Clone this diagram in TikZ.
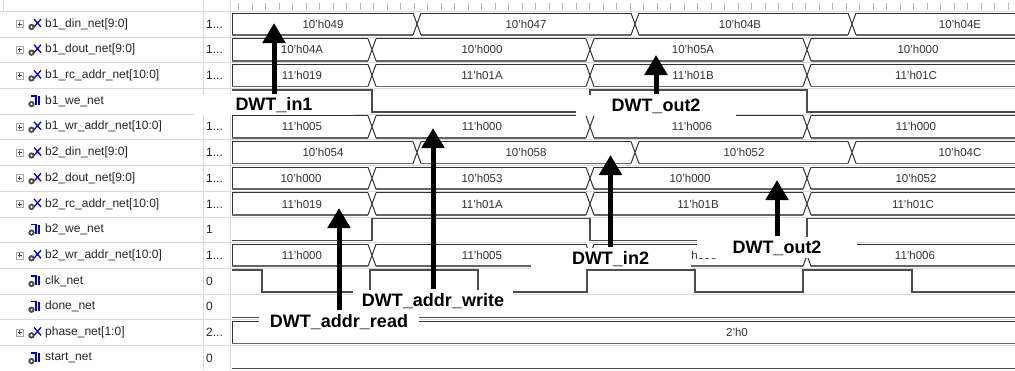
\documentclass[tikz,border=0pt]{standalone}
\usepackage{fontspec}
\setmainfont{Liberation Sans}
\usetikzlibrary{arrows.meta,positioning}

\tikzset{
  gridline/.style={gray!30, line width=0.6pt},
  tickmark/.style={gray!55, line width=0.6pt},
  bitline/.style={black!70, line width=1.5pt},
  bustop/.style={black!80, line width=1pt},
  busbot/.style={black!60, line width=1.7pt},
  signame/.style={anchor=west, inner sep=0pt, font=\fontsize{12}{12}\selectfont, black!85},
  sigvalue/.style={anchor=west, inner sep=0pt, font=\fontsize{12}{12}\selectfont, black!85},
  busvalue/.style={inner sep=0pt, font=\fontsize{11.5}{12}\selectfont, black!80},
  dwtlabel/.style={fill=white, inner sep=0pt, minimum width=160pt, minimum height=21pt,
    text height=12.9pt, text depth=0pt, font=\fontsize{18}{18}\selectfont\bfseries},
  dwtarrow/.style={line width=5pt, -{Triangle[width=22pt,length=20pt]}},
  iconblue/.style={blue!75!black, line width=1.3pt},
}

% one bus trace: #1 = row centre, #2 = times where the value changes
\newcommand{\busrow}[2]{%
  \draw[bustop] (232,#1-11) -- (232,#1+11);
  \foreach \t [remember=\t as \lt (initially 228)] in {#2,1019} {
    \draw[bustop] (\lt+4,#1-11) -- (\t-4,#1-11);
    \draw[busbot] (\lt+4,#1+11) -- (\t-4,#1+11);
  }
  \foreach \t in {#2}
    \draw[bustop] (\t-4,#1-11) -- (\t+4,#1+11) (\t-4,#1+11) -- (\t+4,#1-11);
}

\begin{document}
\begin{tikzpicture}[x=1pt,y=-1pt]
  \useasboundingbox (0,0) rectangle (1015,370);
  \fill[white] (0,0) rectangle (1015,370);
  \clip (0,0) rectangle (1015,370);

  % grid and ruler
  \foreach \k in {0,...,14}
    \draw[gridline] (0,11.2+25.7*\k) -- (1015,11.2+25.7*\k);
  \draw[gridline] (3,0) -- (3,11);
  \draw[gridline] (203,0) -- (203,370);
  \draw[gridline] (230,0) -- (230,370);
  \foreach \x in {238.5,252,...,1015}
    \draw[tickmark] (\x,3) -- (\x,10);

  % signal names and values
  \foreach \b/\nm/\v [count=\i from 0] in {
      1/b1\_din\_net[9:0]/1{...},
      1/b1\_dout\_net[9:0]/1{...},
      1/b1\_rc\_addr\_net[10:0]/1{...},
      0/b1\_we\_net/1,
      1/b1\_wr\_addr\_net[10:0]/1{...},
      1/b2\_din\_net[9:0]/1{...},
      1/b2\_dout\_net[9:0]/1{...},
      1/b2\_rc\_addr\_net[10:0]/1{...},
      0/b2\_we\_net/1,
      1/b2\_wr\_addr\_net[10:0]/1{...},
      0/clk\_net/0,
      0/done\_net/0,
      1/phase\_net[1:0]/2{...},
      0/start\_net/0} {
    \pgfmathsetmacro\c{24+25.7*\i}
    \node[signame] (name\i) at (45,\c) {\nm};
    \node[sigvalue] (val\i) at (206,\c) {\v};
    \ifnum\b=1
      \draw[gray!70, line width=0.5pt, fill=white] (16,\c-3.5) rectangle (23,\c+3.5);
      \draw[black!70, line width=0.5pt] (17.5,\c) -- (21.5,\c) (19.5,\c-2) -- (19.5,\c+2);
      \draw[iconblue] (34,\c-5) -- (41,\c+3) (34,\c+3) -- (41,\c-5);
    \else
      \draw[iconblue] (31,\c-5) -- (36,\c-5) -- (36,\c+4);
      \draw[iconblue] (39,\c-5) -- (39,\c+4);
    \fi
    \fill[black!70] (31.5,\c+3) circle (3.2);
    \fill[white] (31.5,\c+3) circle (1.2);
  }

  % bus traces
  \busrow{24}{417,635,852}
  \busrow{49.7}{372,590,807}
  \busrow{75.4}{372,590,807}
  \busrow{126.8}{372,590,807}
  \busrow{152.5}{417,635,852}
  \busrow{178.2}{372,590,807}
  \busrow{203.9}{372,590,807}
  \busrow{255.3}{372,590,807}
  \draw[bustop] (232,321.4) -- (232,343.4);
  \draw[bustop] (232,321.4) -- (1019,321.4);
  \draw[busbot] (232,343.4) -- (1019,343.4);

  % bit traces
  \draw[bitline] (232,90.1) -| (372,112.1) -| (590,90.1) -| (807,112.1) -- (1019,112.1);
  \draw[bitline] (232,240.6) -| (372,218.6) -| (590,240.6) -| (807,218.6) -- (1019,218.6);
  \draw[bitline] (232,270) -| (262,292) -| (370,270) -| (478,292) -| (587,270)
                 -| (695,292) -| (803,270) -| (912,292) -- (1019,292);
  \draw[bitline] (232,317.7) -- (1019,317.7);
  \draw[bitline] (232,368.3) -- (1019,368.3);

  % bus values
  \foreach \y/\x/\s [count=\j] in {
      24/323/10'h049, 24/526/10'h047, 24/740/10'h04B, 24/960/10'h04E,
      49.7/302/10'h04A, 49.7/482/10'h000, 49.7/693/10'h05A, 49.7/918/10'h000,
      75.4/302/11'h019, 75.4/482/11'h01A, 75.4/693/11'h01B, 75.4/916/11'h01C,
      126.8/302/11'h005, 126.8/482/11'h000, 126.8/692/11'h006, 126.8/916/11'h000,
      152.5/323/10'h054, 152.5/526/10'h058, 152.5/744/10'h052, 152.5/960/10'h04C,
      178.2/301/10'h000, 178.2/482/10'h053, 178.2/690/10'h000, 178.2/916/10'h052,
      203.9/302/11'h019, 203.9/482/11'h01A, 203.9/698/11'h01B, 203.9/913/11'h01C,
      255.3/302/11'h000, 255.3/482/11'h005, 255.3/697/11'h000, 255.3/915/11'h006,
      332.4/737/2'h0}
    \node[busvalue] (txt\j) at (\x,\y) {\s};

  % annotations
  \node[dwtlabel] (in1) at (274,104.5) {DWT\_in1};
  \node[dwtlabel] (out2a) at (656,105) {DWT\_out2};
  \node[dwtlabel] (addrw) at (433,300) {DWT\_addr\_write};
  \node[dwtlabel] (addrr) at (339,321) {DWT\_addr\_read};
  \node[dwtlabel] (in2) at (610.5,258) {DWT\_in2};
  \node[dwtlabel] (out2b) at (777,247) {DWT\_out2};

  \coordinate (in1tip) at (274,23);
  \coordinate (out2atip) at (656,55);
  \coordinate (addrwtip) at (433,128);
  \coordinate (addrrtip) at (339,208);
  \coordinate (in2tip) at (610.5,155);
  \coordinate (out2btip) at (777,180);

  \draw[dwtarrow] (in1.north) -- (in1tip);
  \draw[dwtarrow] (out2a.north) -- (out2atip);
  \draw[dwtarrow] (addrw.north) -- (addrwtip);
  \draw[dwtarrow] (addrr.north) -- (addrrtip);
  \draw[dwtarrow] (in2.north) -- (in2tip);
  \draw[dwtarrow] (out2b.north) -- (out2btip);
\end{tikzpicture}
\end{document}
